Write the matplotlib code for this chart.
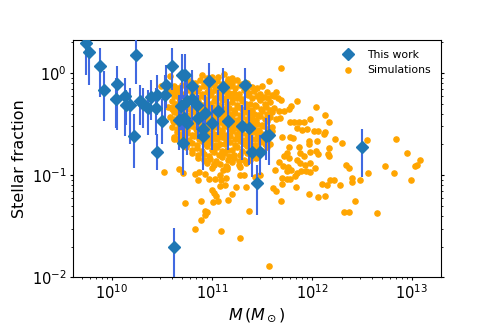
import numpy as np
import matplotlib.pyplot as plt

# observed sample (log10 of mass in Msun, log10 of stellar fraction, error range)
obs_logm = [9.74, 9.77, 9.88, 9.92, 10.05, 10.04, 10.13, 10.14, 10.18, 10.24,
            10.22, 10.28, 10.31, 10.36, 10.39, 10.45, 10.44, 10.50, 10.45, 10.53,
            10.54, 10.60, 10.69, 10.70, 10.73, 10.80, 10.75, 10.80, 10.85, 10.67,
            10.72, 10.75, 10.71, 10.86, 10.97, 10.93, 11.06, 11.11, 11.00, 10.91,
            10.91, 11.16, 11.30, 11.33, 11.37, 11.40, 11.48, 11.54, 11.57, 11.45,
            12.50, 10.62]
obs_logf = [0.29, 0.20, 0.07, -0.17, -0.11, -0.26, -0.23, -0.31, -0.31, 0.17,
            -0.62, -0.28, -0.30, -0.34, -0.24, -0.22, -0.34, -0.47, -0.77, -0.22,
            -0.12, 0.07, -0.32, -0.02, -0.02, -0.13, -0.28, -0.26, -0.31, -0.46,
            -0.44, -0.49, -0.69, -0.44, -0.08, -0.39, -0.37, -0.14, -0.49, -0.55,
            -0.62, -0.47, -0.52, -0.12, -0.54, -0.77, -0.77, -0.62, -0.61, -1.08,
            -0.73, -1.70]
obs_hi = [0.34, 0.27, 0.24, 0.02, 0.07, -0.05, -0.05, -0.17, -0.15, 0.34,
          -0.40, -0.12, -0.15, -0.17, -0.07, -0.02, -0.15, -0.26, -0.60, -0.02,
          0.08, 0.24, -0.12, 0.18, 0.18, 0.03, -0.07, -0.02, -0.12, -0.22,
          -0.22, -0.26, -0.46, -0.22, 0.10, -0.22, -0.17, 0.05, -0.31, -0.36,
          -0.46, -0.26, -0.31, 0.05, -0.36, -0.61, -0.61, -0.44, -0.41, -0.90,
          -0.55, -1.52]
obs_lo = [-0.02, -0.12, -0.24, -0.47, -0.56, -0.54, -0.62, -0.51, -0.70, -0.11,
          -0.93, -0.51, -0.54, -0.61, -0.46, -0.41, -0.61, -0.70, -0.95, -0.46,
          -0.34, -0.17, -0.56, -0.26, -0.36, -0.36, -0.56, -0.51, -0.56, -0.75,
          -0.70, -0.80, -1.00, -0.65, -0.38, -0.63, -0.61, -0.36, -0.75, -0.90,
          -0.95, -0.75, -0.85, -0.36, -0.90, -1.02, -1.00, -0.85, -0.90, -1.39,
          -1.02, -2.10]

# simulations, dense core (read row by row)
core_logm = [10.90, 11.00, 11.12, 11.20,
             10.78, 10.88, 10.95, 11.05, 11.15, 11.25, 11.35,
             10.62, 10.70, 10.82, 10.92, 11.02, 11.10, 11.18, 11.28, 11.40, 11.50,
             10.58, 10.66, 10.75, 10.85, 10.95, 11.03, 11.12, 11.22, 11.32, 11.42, 11.55,
             10.62, 10.72, 10.80, 10.90, 10.98, 11.08, 11.15, 11.25, 11.36, 11.45, 11.52, 11.60,
             10.60, 10.68, 10.78, 10.86, 10.94, 11.02, 11.10, 11.20, 11.30, 11.38, 11.48, 11.58,
             10.56, 10.65, 10.74, 10.83, 10.92, 11.00, 11.08, 11.17, 11.26, 11.35, 11.44, 11.54, 11.62,
             10.62, 10.70, 10.80, 10.88, 10.97, 11.05, 11.14, 11.23, 11.32, 11.42, 11.50, 11.60,
             10.58, 10.67, 10.76, 10.85, 10.94, 11.03, 11.12, 11.20, 11.30, 11.40, 11.48, 11.58,
             10.62, 10.72, 10.82, 10.90, 10.99, 11.08, 11.16, 11.26, 11.35, 11.45, 11.55,
             10.60, 10.70, 10.80, 10.88, 10.96, 11.05, 11.14, 11.22, 11.32, 11.42, 11.52, 11.60,
             10.65, 10.75, 10.85, 10.93, 11.02, 11.10, 11.20, 11.30, 11.40, 11.50, 11.60,
             10.62, 10.72, 10.82, 10.92, 11.00, 11.10, 11.18, 11.28, 11.38, 11.48, 11.58,
             10.70, 10.80, 10.90, 10.98, 11.08, 11.18, 11.28, 11.38, 11.48, 11.58,
             10.74, 10.85, 10.95, 11.05, 11.15, 11.25, 11.35, 11.45, 11.55,
             10.80, 10.92, 11.02, 11.12, 11.22, 11.35, 11.46,
             10.86, 10.98, 11.10, 11.22, 11.32, 11.44,
             10.95, 11.08, 11.20, 11.34,
             11.00, 11.15, 11.28]
core_logf = [-0.02, -0.04, -0.01, -0.05,
             -0.08, -0.07, -0.10, -0.08, -0.09, -0.07, -0.10,
             -0.13, -0.12, -0.14, -0.13, -0.12, -0.15, -0.13, -0.12, -0.14, -0.13,
             -0.18, -0.19, -0.17, -0.18, -0.19, -0.17, -0.18, -0.20, -0.17, -0.18, -0.19,
             -0.23, -0.22, -0.24, -0.23, -0.22, -0.24, -0.23, -0.25, -0.22, -0.23, -0.24, -0.22,
             -0.28, -0.29, -0.27, -0.28, -0.30, -0.28, -0.27, -0.29, -0.28, -0.30, -0.27, -0.29,
             -0.33, -0.34, -0.32, -0.33, -0.35, -0.33, -0.32, -0.34, -0.33, -0.35, -0.32, -0.33, -0.34,
             -0.38, -0.39, -0.37, -0.38, -0.40, -0.38, -0.37, -0.39, -0.38, -0.40, -0.37, -0.38,
             -0.43, -0.44, -0.42, -0.43, -0.45, -0.43, -0.42, -0.44, -0.43, -0.45, -0.42, -0.43,
             -0.48, -0.49, -0.47, -0.48, -0.50, -0.48, -0.47, -0.49, -0.48, -0.50, -0.47,
             -0.53, -0.54, -0.52, -0.53, -0.55, -0.53, -0.52, -0.54, -0.53, -0.55, -0.52, -0.53,
             -0.58, -0.59, -0.57, -0.58, -0.60, -0.58, -0.57, -0.59, -0.58, -0.60, -0.57,
             -0.63, -0.64, -0.62, -0.63, -0.65, -0.63, -0.62, -0.64, -0.63, -0.65, -0.62,
             -0.68, -0.69, -0.67, -0.68, -0.70, -0.68, -0.67, -0.69, -0.68, -0.70,
             -0.73, -0.74, -0.72, -0.73, -0.75, -0.73, -0.72, -0.74, -0.73,
             -0.78, -0.79, -0.77, -0.78, -0.80, -0.78, -0.77,
             -0.83, -0.84, -0.82, -0.83, -0.85, -0.83,
             -0.88, -0.89, -0.87, -0.88,
             -0.93, -0.94, -0.92]

# simulations, dense core, points lying between the rows above
fill_logm = [10.95, 11.06, 11.16,
             10.83, 10.92, 11.00, 11.10, 11.20, 11.30,
             10.66, 10.76, 10.87, 10.97, 11.06, 11.14, 11.23, 11.34, 11.45,
             10.62, 10.70, 10.80, 10.90, 10.99, 11.07, 11.17, 11.27, 11.37, 11.48,
             10.67, 10.76, 10.85, 10.94, 11.03, 11.12, 11.20, 11.30, 11.40, 11.48, 11.56,
             10.64, 10.73, 10.82, 10.90, 10.98, 11.06, 11.15, 11.25, 11.34, 11.43, 11.53,
             10.60, 10.70, 10.78, 10.88, 10.96, 11.04, 11.12, 11.22, 11.30, 11.40, 11.49, 11.58,
             10.66, 10.75, 10.84, 10.92, 11.01, 11.10, 11.18, 11.28, 11.37, 11.46, 11.55,
             10.62, 10.72, 10.80, 10.90, 10.98, 11.08, 11.16, 11.25, 11.35, 11.44, 11.53,
             10.67, 10.77, 10.86, 10.94, 11.04, 11.12, 11.21, 11.30, 11.40, 11.50,
             10.65, 10.75, 10.84, 10.92, 11.00, 11.10, 11.18, 11.27, 11.37, 11.47, 11.56,
             10.70, 10.80, 10.89, 10.98, 11.06, 11.15, 11.25, 11.35, 11.45, 11.55,
             10.67, 10.77, 10.87, 10.96, 11.05, 11.14, 11.23, 11.33, 11.43, 11.53,
             10.75, 10.85, 10.94, 11.03, 11.13, 11.23, 11.33, 11.43, 11.53,
             10.80, 10.90, 11.00, 11.10, 11.20, 11.30, 11.40, 11.50,
             10.86, 10.97, 11.07, 11.17, 11.28, 11.40,
             10.92, 11.04, 11.16, 11.27, 11.38,
             11.02, 11.14, 11.27]
fill_logf = [-0.05, -0.04, -0.06,
             -0.10, -0.11, -0.10, -0.11, -0.10, -0.11,
             -0.15, -0.16, -0.15, -0.16, -0.15, -0.16, -0.15, -0.16, -0.15,
             -0.20, -0.21, -0.20, -0.21, -0.20, -0.21, -0.20, -0.21, -0.20, -0.21,
             -0.25, -0.26, -0.25, -0.26, -0.25, -0.26, -0.25, -0.26, -0.25, -0.26, -0.25,
             -0.30, -0.31, -0.30, -0.31, -0.30, -0.31, -0.30, -0.31, -0.30, -0.31, -0.30,
             -0.35, -0.36, -0.35, -0.36, -0.35, -0.36, -0.35, -0.36, -0.35, -0.36, -0.35, -0.36,
             -0.40, -0.41, -0.40, -0.41, -0.40, -0.41, -0.40, -0.41, -0.40, -0.41, -0.40,
             -0.45, -0.46, -0.45, -0.46, -0.45, -0.46, -0.45, -0.46, -0.45, -0.46, -0.45,
             -0.50, -0.51, -0.50, -0.51, -0.50, -0.51, -0.50, -0.51, -0.50, -0.51,
             -0.55, -0.56, -0.55, -0.56, -0.55, -0.56, -0.55, -0.56, -0.55, -0.56, -0.55,
             -0.60, -0.61, -0.60, -0.61, -0.60, -0.61, -0.60, -0.61, -0.60, -0.61,
             -0.65, -0.66, -0.65, -0.66, -0.65, -0.66, -0.65, -0.66, -0.65, -0.66,
             -0.70, -0.71, -0.70, -0.71, -0.70, -0.71, -0.70, -0.71, -0.70,
             -0.75, -0.76, -0.75, -0.76, -0.75, -0.76, -0.75, -0.76,
             -0.80, -0.81, -0.80, -0.81, -0.80, -0.81,
             -0.85, -0.86, -0.85, -0.86, -0.85,
             -0.90, -0.91, -0.90]

# simulations, scattered points outside the core
scat_logm = [10.58, 10.49, 10.63, 10.61, 10.61, 10.62, 10.65,
             10.52, 10.67, 10.71, 10.83, 10.86, 10.87, 10.93, 10.97, 11.02, 11.03,
             11.08, 11.09, 11.08, 11.13, 11.14, 11.15, 11.11, 11.24, 11.28, 11.32,
             11.34, 11.43, 11.48, 11.61, 11.64, 11.70, 11.70, 11.78, 11.84, 11.75,
             11.63, 10.73, 10.89, 11.00, 11.02, 11.04, 11.01, 11.06, 11.16, 11.20,
             10.93, 10.95, 10.93, 10.89, 10.83, 11.09, 11.28, 11.37, 11.57,
             11.69, 11.57, 11.64, 11.62, 11.66, 11.69, 11.67, 11.72, 11.77, 11.79,
             11.85, 11.68, 11.64, 11.78, 11.82, 11.87, 11.92, 11.98, 12.04, 12.13,
             12.17, 11.85, 11.90, 11.95, 12.02, 12.06, 12.13, 12.12, 11.70, 11.78,
             11.81, 11.97, 12.05, 12.23, 12.30, 12.55, 12.84, 12.95, 13.08, 13.05,
             13.03, 12.73, 12.82, 12.99, 12.34, 12.37, 12.40, 12.40, 12.48, 12.56,
             12.17, 12.16, 12.17, 12.04, 12.06, 11.97, 11.98, 11.87, 11.88, 11.92,
             11.85, 11.88, 11.93, 11.98, 12.03, 11.94, 11.89, 11.85, 11.83, 11.98,
             12.10, 12.15, 12.18, 12.22, 12.28, 12.06, 12.13, 11.97, 12.32, 12.37,
             12.43, 12.65, 11.75, 11.79, 11.76, 11.71, 11.67, 11.77, 11.75, 11.72,
             11.77, 11.69]
scat_logf = [-0.03, -0.13, -0.15, -0.33, -0.47, -0.65, -0.65,
             -0.97, -0.94, -0.98, -0.99, -1.05, -0.97, -0.99, -1.04, -0.89, -1.04,
             -1.00, -1.05, -1.11, -1.10, -1.03, -0.92, -0.95, -1.12, -1.00, -1.00,
             -1.12, -1.02, -1.00, -1.13, -1.16, -1.09, -1.03, -1.04, -1.12, -0.96,
             -0.95, -1.27, -1.25, -1.15, -1.18, -1.20, -1.26, -1.25, -1.24, -1.19,
             -1.35, -1.36, -1.39, -1.44, -1.53, -1.55, -1.62, -1.35, -1.89,
             0.05, -0.08, -0.19, -0.23, -0.25, -0.27, -0.37, -0.37, -0.35, -0.32,
             -0.28, -0.44, -0.45, -0.48, -0.48, -0.48, -0.48, -0.45, -0.33, -0.41,
             -0.48, -0.54, -0.56, -0.55, -0.57, -0.57, -0.58, -0.60, -0.63, -0.63,
             -0.64, -0.67, -0.67, -0.65, -0.69, -0.66, -0.65, -0.78, -0.85, -0.90,
             -0.91, -0.91, -0.98, -1.05, -0.90, -0.93, -1.03, -1.07, -1.05, -0.98,
             -0.74, -0.79, -0.81, -0.76, -0.79, -0.70, -0.77, -0.73, -0.78, -0.81,
             -0.85, -0.88, -0.90, -0.88, -0.93, -0.96, -0.96, -0.98, -1.01, -0.97,
             -1.09, -1.10, -1.05, -1.05, -1.10, -1.21, -1.20, -1.19, -1.36, -1.36,
             -1.25, -1.37, -1.04, -0.95, -0.92, -0.91, -0.87, -0.73, -0.78, -0.81,
             -0.83, -1.25]

obs_m = 10**np.array(obs_logm)
obs_f = 10**np.array(obs_logf)
err = [obs_f - 10**np.array(obs_lo), 10**np.array(obs_hi) - obs_f]
sim_m = 10**np.array(core_logm + fill_logm + scat_logm)
sim_f = 10**np.array(core_logf + fill_logf + scat_logf)

fig = plt.figure(figsize=(4.91, 3.27), dpi=100)
ax = fig.add_subplot(111)
fig.subplots_adjust(left=0.149, right=0.898, bottom=0.152, top=0.878)

sim = ax.scatter(sim_m, sim_f, s=14, c='orange', label='Simulations', zorder=2)
ax.errorbar(obs_m, obs_f, yerr=err, fmt='none', ecolor='royalblue', elinewidth=1.5, zorder=3)
obs, = ax.plot(obs_m, obs_f, 'D', color='#1f77b4', ms=6, label='This work', zorder=4)

ax.set_xscale('log')
ax.set_yscale('log')
ax.set_xlim(4.1e9, 1.95e13)
ax.set_ylim(1e-2, 2.1)
ax.set_xlabel(r'$M\,(M_\odot)$', fontsize=11.5, labelpad=3)
ax.set_ylabel('Stellar fraction', fontsize=11.5)
ax.tick_params(which='both', labelsize=10.5, pad=2, right=True)
ax.tick_params(which='major', length=2.5)
ax.tick_params(which='minor', length=1.5)
ax.legend(handles=[obs, sim], loc='upper right', frameon=False, fontsize=7.8)

fig.savefig('out.png', dpi=100)
